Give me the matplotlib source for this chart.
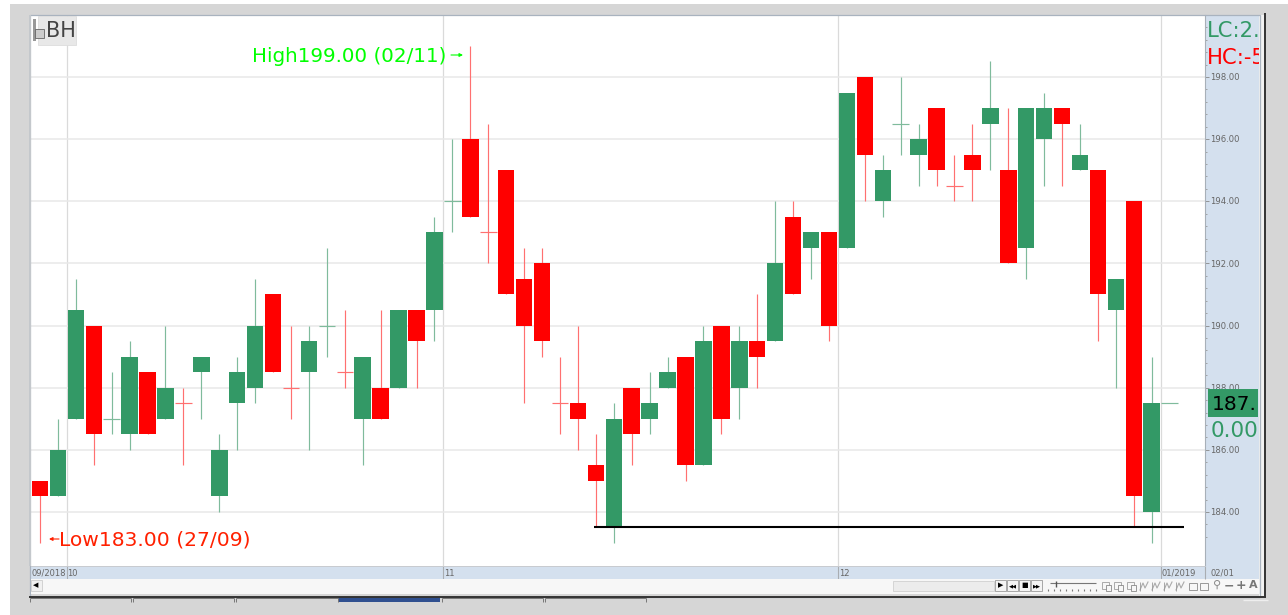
import matplotlib
matplotlib.use('Agg')
import matplotlib.pyplot as plt
from matplotlib.patches import Rectangle

# candle values
body_low = [184.5, 184.5, 187, 186.5, 187, 186.5, 186.5, 187, 187.5, 188.5, 184.5, 187.5, 188, 188.5, 188, 188.5,
            190, 188.5, 187, 187, 188, 189.5, 190.5, 194, 193.5, 193, 191, 190, 189.5, 187.5, 187, 185,
            183.5, 186.5, 187, 188, 185.5, 185.5, 187, 188, 189, 189.5, 191, 192.5, 190, 192.5, 195.5, 194,
            196.5, 195.5, 195, 194.5, 195, 196.5, 192, 192.5, 196, 196.5, 195, 191, 190.5, 184.5, 184, 187.5]
body_high = [185, 186, 190.5, 190, 187, 189, 188.5, 188, 187.5, 189, 186, 188.5, 190, 191, 188, 189.5,
             190, 188.5, 189, 188, 190.5, 190.5, 193, 194, 196, 193, 195, 191.5, 192, 187.5, 187.5, 185.5,
             187, 188, 187.5, 188.5, 189, 189.5, 190, 189.5, 189.5, 192, 193.5, 193, 193, 197.5, 198, 195,
             196.5, 196, 197, 194.5, 195.5, 197, 195, 197, 197, 197, 195.5, 195, 191.5, 194, 187.5, 187.5]
high = [185, 187, 191.5, 190, 188.5, 189.5, 188.5, 190, 188, 189, 186.5, 189, 191.5, 191, 190, 190,
        192.5, 190.5, 189, 190.5, 190.5, 190.5, 193.5, 196, 199, 196.5, 195, 192.5, 192.5, 189, 190, 186.5,
        187.5, 188, 188.5, 189, 189, 190, 190, 190, 191, 194, 194, 193, 193, 197.5, 198, 195.5,
        198, 196.5, 197, 195.5, 196.5, 198.5, 197, 197, 197.5, 197, 196.5, 195, 191.5, 194, 189, 187.5]
low = [183, 184.5, 187, 185.5, 186.5, 186, 186.5, 187, 185.5, 187, 184, 186, 187.5, 188.5, 187, 186,
       189, 188, 185.5, 187, 188, 188, 189.5, 193, 193.5, 192, 191, 187.5, 189, 186.5, 186, 183.5,
       183, 185.5, 186.5, 188, 185, 185.5, 186.5, 187, 188, 189.5, 191, 191.5, 189.5, 192.5, 194, 193.5,
       195.5, 194.5, 194.5, 194, 194, 195, 192, 191.5, 194.5, 194.5, 195, 189.5, 188, 183.5, 183, 187.5]
colors = ['r', 'g', 'g', 'r', 'g', 'g', 'r', 'g', 'r', 'g', 'g', 'g', 'g', 'r', 'r', 'g',
          'g', 'r', 'g', 'r', 'g', 'r', 'g', 'g', 'r', 'r', 'r', 'r', 'r', 'r', 'r', 'r',
          'g', 'r', 'g', 'g', 'r', 'g', 'r', 'g', 'r', 'g', 'r', 'g', 'r', 'g', 'r', 'g',
          'g', 'g', 'r', 'r', 'r', 'g', 'r', 'g', 'g', 'r', 'g', 'r', 'g', 'r', 'g', 'g']

price_ticks = [184, 186, 188, 190, 192, 194, 196, 198]
minor_ticks = [183.2, 183.6, 184.4, 184.8, 185.2, 185.6, 186.4, 186.8, 187.2, 187.6, 188.4, 188.8, 189.2, 189.6,
               190.4, 190.8, 191.2, 191.6, 192.4, 192.8, 193.2, 193.6, 194.4, 194.8, 195.2, 195.6,
               196.4, 196.8, 197.2, 197.6, 198.4, 198.8, 199.2, 199.6]
date_pos = [1.5, 22.5, 44.5, 62.5]
date_labels = ['10', '11', '12', '01/2019']
support_level = 183.5
support_from, support_to = 30.9, 63.8

GREEN = '#339966'
RED = '#ff0000'
WICK = {'g': '#7fbb9c', 'r': '#ff7070'}
PANEL = '#d4e0ee'
W, H = 1288, 615
XLIM = (-0.5, 64.97)
YLIM = (182.26, 199.995)


def box(left, top, right, bottom):
    # pixel box of the picture -> figure fractions
    return [left / W, 1 - bottom / H, (right - left) / W, (bottom - top) / H]


fig = plt.figure(figsize=(W / 100, H / 100), dpi=100, facecolor='#d6d6d6')

ax = fig.add_axes(box(31, 15, 1205, 566), facecolor='white', zorder=2)
ax.set_xlim(XLIM)
ax.set_ylim(YLIM)
ax.set_xticks(date_pos)
ax.set_yticks(price_ticks)
ax.tick_params(length=0, labelbottom=False, labelleft=False)
ax.grid(axis='y', color='#e8e8e8', lw=1.1, zorder=0)
ax.grid(axis='x', color='#dadada', lw=0.9, zorder=0)
ax.set_axisbelow(True)
for s in ax.spines.values():
    s.set_visible(False)

for i in range(len(colors)):
    c = colors[i]
    ax.vlines(i, low[i], high[i], color=WICK[c], lw=0.85, zorder=2)
    if body_high[i] == body_low[i]:
        ax.hlines(body_low[i], i - 0.46, i + 0.46, color=WICK[c], lw=0.85, zorder=2)
    else:
        ax.add_patch(Rectangle((i - 0.46, body_low[i]), 0.92, body_high[i] - body_low[i],
                               facecolor=GREEN if c == 'g' else RED, edgecolor='none', zorder=3))

ax.hlines(support_level, support_from, support_to, color='black', lw=1.5, zorder=4)

# price axis on the right
panel = fig.add_axes(box(1205, 15, 1259, 566), facecolor=PANEL, zorder=3)
panel.set_xlim(0, 54)
panel.set_ylim(YLIM)
panel.set_xticks([])
panel.set_yticks(price_ticks)
panel.set_yticks(minor_ticks, minor=True)
panel.tick_params(axis='y', which='major', direction='in', length=3.2, width=0.6, color='#888888', labelleft=False)
panel.tick_params(axis='y', which='minor', direction='in', length=1.2, width=0.6, color='#999999')
for s in panel.spines.values():
    s.set_visible(False)
panel.spines['left'].set_visible(True)
panel.spines['left'].set_color('#a8b0b8')
for t in price_ticks:
    panel.text(5.5, t - 0.02, '%.2f' % t, fontsize=6.1, color='#666666', va='center', ha='left')
panel.text(1.5, 199.47, 'LC:2.4', fontsize=15.2, color=GREEN, va='center', ha='left', clip_on=True)
panel.text(1.5, 198.6, 'HC:-5', fontsize=15.2, color=RED, va='center', ha='left', clip_on=True)
panel.add_patch(Rectangle((3, 187.05), 50, 0.91, facecolor=GREEN, edgecolor='none', zorder=4))
panel.text(6.5, 187.46, '187.', fontsize=14.5, color='black', va='center', ha='left', zorder=5, clip_on=True)
panel.text(5.5, 186.6, '0.00', fontsize=15.5, color=GREEN, va='center', ha='left')

# date strip under the chart
strip = fig.add_axes(box(31, 566, 1205, 579), facecolor=PANEL, zorder=3)
strip.set_xlim(XLIM)
strip.set_ylim(0, 1)
strip.set_xticks([])
strip.set_yticks([])
for s in strip.spines.values():
    s.set_visible(False)
strip.vlines(date_pos, 0, 1, color='#a9adb2', lw=0.8)
strip.text(-0.48, 0.45, '09/2018', fontsize=6.0, color='#666666', va='center', ha='left')
for pos, lab in zip(date_pos, date_labels):
    strip.text(pos + 0.04, 0.45, lab, fontsize=6.0, color='#666666', va='center', ha='left')

# everything else of the window in picture pixels
top = fig.add_axes([0, 0, 1, 1], zorder=5)
top.set_xlim(0, W)
top.set_ylim(H, 0)
top.axis('off')
top.patch.set_alpha(0)


def rect(x0, y0, x1, y1, **kw):
    top.add_patch(Rectangle((x0, y0), x1 - x0, y1 - y0, edgecolor=kw.pop('edgecolor', 'none'), **kw))


rect(0, 0, W, 4, facecolor='white')
rect(0, 0, 10, H, facecolor='white')
rect(1259, 15, 1264, 596, facecolor='#f2f2f2')
rect(30, 15, 1260, 597, facecolor='none', edgecolor='#a9b3bf', lw=0.9)
rect(29.5, 15, 31, 566, facecolor='#c4c8cc')
rect(31, 565.5, 1259, 567, facecolor='#c8cbd0')
rect(1205, 566, 1259, 579, facecolor=PANEL)
top.vlines(1205, 566, 579, color='#a9adb2', lw=0.8)
top.text(1211, 573, '02/01', fontsize=6.0, color='#666666', va='center', ha='left')

# bottom scroll bar and toolbar
rect(31, 579, 1259, 594, facecolor='#f7f7f7')
rect(31, 580, 42, 591, facecolor='#f0f0f0', edgecolor='#cccccc', lw=0.6)
top.text(36, 585.5, '◀', fontsize=5, color='black', va='center', ha='center')
rect(893, 581, 994, 591, facecolor='#ececec', edgecolor='#d0d0d0', lw=0.6)
for bx, sym in zip([1001, 1013, 1025, 1037], ['▶', '◀◀', '■', '▶▶']):
    rect(bx - 5.5, 580, bx + 5.5, 591, facecolor='#f4f4f4', edgecolor='#888888', lw=0.5)
    top.text(bx, 585.5, sym, fontsize=3.8 if len(sym) > 1 else 5, color='black', va='center', ha='center')
top.hlines(583, 1050, 1096, color='#777777', lw=0.8)
top.vlines(1056, 581, 587, color='#555555', lw=1)
for sx in [1048, 1054, 1060, 1066, 1072, 1078, 1084, 1090, 1096]:
    top.vlines(sx, 589, 590.5, color='#777777', lw=0.8)
# page icons
for ix in [1107, 1119, 1132]:
    rect(ix - 5, 582, ix + 2, 589, facecolor='none', edgecolor='#aaaaaa', lw=0.7)
    rect(ix - 1, 585, ix + 4, 591, facecolor='#f7f7f7', edgecolor='#888888', lw=0.6)
# chart tool icons
for ix in [1144, 1156, 1168, 1180]:
    top.plot([ix - 4, ix - 1, ix + 1, ix + 4], [590, 583, 588, 582], color='#aaaaaa', lw=0.8)
    top.vlines(ix - 4, 582, 591, color='#999999', lw=0.6)
for ix in [1193, 1204]:
    rect(ix - 4, 583, ix + 4, 590, facecolor='none', edgecolor='#999999', lw=0.7)
top.text(1217, 585, '⚲', fontsize=8, color='#888888', va='center', ha='center')
top.text(1229, 585.5, '−', fontsize=9, color='#777777', va='center', ha='center', fontweight='bold')
top.text(1241, 585.5, '+', fontsize=9, color='#777777', va='center', ha='center', fontweight='bold')
top.text(1253, 585.5, 'A', fontsize=8, color='#777777', va='center', ha='center', fontweight='bold')

# dark window edge and the tabs below it
top.hlines(596.5, 29, 1266, color='#333333', lw=1.4)
top.vlines(1265, 13, 597, color='#333333', lw=1.4)
rect(338, 597, 440, 602, facecolor='#2f4f8f')
for tx0, tx1 in [(30, 131), (133, 234), (236, 338), (442, 543), (545, 646)]:
    top.hlines(598, tx0, tx1, color='#777777', lw=0.7)
    top.vlines([tx0, tx1], 598, 602, color='#777777', lw=0.7)
top.hlines(600, 1243, 1268, color='#eeeeee', lw=1)

# symbol tab
rect(38, 16, 76, 44.5, facecolor='#e8e8e8', edgecolor='#dddddd', lw=0.6)
rect(33.5, 19, 36.5, 41, facecolor='#999999')
rect(35, 29, 44, 38, facecolor='#cccccc', edgecolor='#666666', lw=0.6)
top.text(46, 31, 'BH', fontsize=15, color='#444444', va='center', ha='left')

# high / low labels
top.text(252, 56, 'High199.00 (02/11)', fontsize=14.3, color='#00ff00', va='center', ha='left')
top.annotate('', xy=(463, 55), xytext=(451, 55), arrowprops=dict(arrowstyle='-|>', color='#00ff00', lw=0.8, mutation_scale=5, shrinkA=0, shrinkB=0))
top.text(59, 540, 'Low183.00 (27/09)', fontsize=14.6, color='#ff2000', va='center', ha='left')
top.annotate('', xy=(49, 539), xytext=(59, 539), arrowprops=dict(arrowstyle='-|>', color='#ff2000', lw=0.8, mutation_scale=5, shrinkA=0, shrinkB=0))

fig.savefig('out.png', dpi=100, facecolor=fig.get_facecolor())
